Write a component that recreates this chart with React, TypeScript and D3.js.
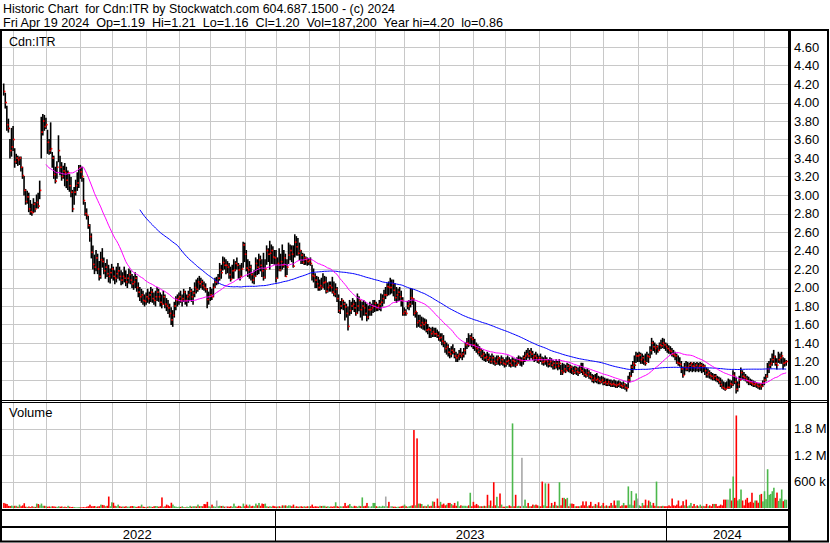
import React from "react";
import * as d3 from "d3";

// ---- data (prices in cents, volume in thousands of shares) ----
const START_DATE = "2022-04-22";
const HOLIDAYS = [
  "2022-05-23", "2022-07-01", "2022-08-01", "2022-09-05", "2022-10-10", "2022-12-26", "2022-12-27",
  "2023-01-02", "2023-02-20", "2023-04-07", "2023-05-22", "2023-07-03", "2023-08-07", "2023-09-04",
  "2023-10-09", "2023-12-25", "2023-12-26", "2024-01-01", "2024-02-19", "2024-03-29",
];

const CLOSE = [
  412, 400, 376, 372, 348, 352, 360, 336, 340, 338,
  340, 330, 321, 305, 293, 298, 285, 282, 281, 290,
  285, 292, 288, 305, 368, 380, 374, 376, 357, 348,
  350, 340, 322, 315, 330, 348, 330, 320, 326, 324,
  316, 324, 310, 303, 285, 303, 310, 313, 329, 325,
  320, 294, 280, 278, 267, 255, 238, 225, 222, 232,
  220, 212, 230, 228, 218, 222, 215, 212, 216, 220,
  212, 210, 215, 218, 212, 208, 212, 210, 206, 210,
  214, 208, 204, 206, 210, 200, 195, 190, 192, 186,
  185, 190, 188, 192, 195, 188, 186, 190, 195, 190,
  184, 182, 190, 182, 180, 178, 172, 165, 170, 180,
  186, 188, 190, 186, 188, 195, 186, 190, 192, 196,
  190, 194, 200, 198, 206, 204, 206, 202, 200, 198,
  187, 190, 192, 190, 200, 206, 206, 210, 219, 216,
  227, 224, 224, 222, 214, 209, 218, 219, 226, 224,
  219, 212, 220, 246, 236, 221, 219, 222, 214, 208,
  212, 226, 222, 230, 224, 218, 211, 220, 240, 236,
  237, 240, 233, 232, 210, 226, 219, 228, 224, 232,
  212, 222, 235, 240, 236, 223, 249, 244, 237, 240,
  235, 227, 232, 230, 228, 229, 226, 213, 212, 208,
  204, 200, 202, 200, 205, 206, 196, 200, 202, 200,
  195, 193, 198, 188, 175, 180, 186, 182, 179, 172,
  158, 175, 180, 182, 178, 172, 180, 186, 176, 180,
  178, 172, 168, 176, 176, 178, 180, 183, 178, 180,
  182, 184, 188, 192, 192, 201, 200, 200, 204, 197,
  189, 192, 195, 190, 186, 172, 174, 172, 180, 182,
  189, 188, 172, 174, 162, 164, 159, 162, 160, 162,
  154, 155, 154, 150, 152, 150, 150, 148, 145, 146,
  142, 140, 134, 136, 130, 128, 132, 130, 126, 124,
  126, 128, 126, 128, 132, 138, 140, 138, 146, 144,
  138, 136, 134, 130, 132, 126, 128, 124, 125, 122,
  124, 120, 124, 120, 118, 122, 124, 119, 122, 118,
  117, 120, 121, 118, 116, 121, 120, 116, 118, 122,
  121, 121, 124, 126, 128, 126, 130, 128, 124, 126,
  124, 121, 124, 122, 119, 120, 122, 120, 117, 120,
  116, 118, 114, 118, 115, 118, 110, 108, 112, 110,
  115, 112, 114, 110, 108, 112, 109, 108, 112, 110,
  108, 106, 105, 108, 104, 103, 100, 102, 100, 101,
  99, 98, 100, 97, 98, 96, 98, 96, 95, 96,
  95, 94, 95, 96, 94, 93, 95, 92, 91, 100,
  104, 114, 118, 116, 126, 126, 127, 122, 124, 120,
  118, 126, 125, 132, 140, 136, 134, 136, 132, 138,
  137, 140, 138, 136, 134, 132, 131, 128, 127, 126,
  119, 118, 117, 112, 105, 114, 112, 114, 116, 118,
  115, 114, 116, 113, 115, 116, 114, 115, 110, 106,
  108, 105, 104, 102, 104, 101, 100, 98, 95, 92,
  91, 90, 92, 92, 96, 95, 105, 98, 90, 95,
  100, 108, 104, 103, 101, 99, 98, 97, 96, 95,
  96, 94, 93, 95, 93, 97, 100, 104, 112, 116,
  118, 122, 125, 118, 116, 122, 124, 126, 118, 119,
  120,
];

const HIGH = [
  420, 410, 396, 382, 360, 372, 374, 350, 344, 342,
  341, 341, 330, 320, 306, 304, 302, 294, 290, 296,
  292, 300, 302, 315, 384, 387, 386, 383, 370, 360,
  378, 346, 342, 330, 336, 364, 342, 335, 331, 334,
  330, 326, 322, 319, 305, 308, 316, 324, 332, 332,
  330, 318, 292, 285, 277, 268, 258, 245, 235, 240,
  236, 228, 238, 242, 232, 226, 230, 224, 220, 225,
  222, 218, 222, 226, 222, 218, 216, 222, 218, 214,
  220, 218, 214, 212, 216, 212, 205, 200, 198, 196,
  192, 194, 198, 195, 200, 198, 194, 196, 200, 198,
  194, 192, 196, 192, 188, 186, 182, 178, 175, 184,
  190, 192, 194, 196, 192, 198, 196, 192, 196, 200,
  198, 196, 205, 208, 210, 212, 210, 208, 206, 204,
  199, 195, 200, 198, 204, 210, 211, 214, 226, 224,
  233, 232, 230, 228, 226, 222, 224, 230, 228, 232,
  226, 224, 226, 249, 248, 240, 230, 228, 224, 215,
  218, 232, 230, 236, 234, 230, 237, 230, 245, 242,
  250, 246, 244, 240, 240, 232, 242, 236, 246, 240,
  236, 230, 248, 246, 245, 245, 257, 255, 253, 248,
  240, 237, 236, 233, 232, 231, 232, 224, 220, 215,
  212, 211, 208, 210, 215, 212, 211, 205, 206, 206,
  211, 206, 204, 200, 192, 185, 188, 186, 184, 182,
  179, 186, 184, 188, 186, 184, 193, 190, 186, 184,
  186, 184, 182, 180, 184, 182, 186, 186, 184, 182,
  186, 193, 192, 197, 200, 204, 206, 210, 208, 208,
  204, 200, 198, 200, 196, 189, 178, 176, 185, 186,
  199, 198, 188, 184, 173, 170, 170, 168, 167, 166,
  165, 160, 157, 156, 157, 156, 156, 154, 152, 150,
  150, 148, 142, 140, 138, 134, 136, 138, 134, 130,
  128, 132, 134, 130, 134, 140, 145, 150, 148, 150,
  146, 144, 140, 138, 136, 134, 132, 130, 128, 130,
  128, 126, 128, 126, 124, 126, 126, 124, 126, 124,
  122, 124, 126, 124, 122, 124, 123, 122, 124, 126,
  125, 124, 126, 130, 132, 134, 132, 134, 131, 128,
  130, 128, 126, 128, 125, 124, 126, 124, 122, 124,
  123, 121, 120, 122, 120, 122, 116, 118, 117, 116,
  118, 117, 116, 115, 114, 115, 114, 113, 115, 118,
  118, 112, 111, 112, 110, 108, 106, 105, 106, 107,
  104, 103, 104, 103, 102, 101, 101, 100, 100, 99,
  100, 99, 98, 99, 98, 97, 98, 96, 95, 104,
  108, 116, 120, 126, 130, 129, 130, 129, 128, 126,
  128, 130, 128, 136, 145, 142, 140, 138, 137, 140,
  143, 145, 144, 140, 139, 137, 136, 134, 132, 130,
  128, 126, 124, 120, 114, 118, 120, 119, 118, 119,
  118, 119, 118, 119, 118, 119, 118, 117, 116, 113,
  112, 110, 108, 107, 106, 106, 104, 103, 102, 100,
  98, 97, 98, 101, 100, 99, 110, 108, 103, 98,
  104, 113, 110, 108, 106, 104, 103, 101, 100, 99,
  98, 97, 96, 96, 96, 99, 103, 106, 118, 120,
  123, 128, 132, 126, 123, 130, 128, 130, 124, 123,
  121,
];

const LOW = [
  408, 394, 370, 368, 340, 342, 348, 330, 334, 332,
  333, 326, 318, 300, 290, 291, 282, 279, 278, 281,
  282, 286, 286, 296, 340, 365, 370, 372, 345, 344,
  345, 330, 318, 313, 318, 336, 322, 316, 318, 310,
  308, 306, 304, 298, 282, 290, 300, 305, 308, 318,
  315, 290, 278, 274, 264, 250, 232, 220, 215, 218,
  215, 208, 210, 222, 215, 210, 212, 206, 205, 210,
  208, 204, 206, 210, 208, 203, 204, 206, 202, 200,
  205, 204, 200, 198, 200, 196, 190, 186, 184, 182,
  180, 182, 184, 183, 185, 184, 182, 180, 186, 185,
  180, 178, 182, 178, 175, 172, 168, 160, 158, 168,
  176, 180, 182, 184, 180, 185, 182, 180, 184, 186,
  185, 182, 190, 194, 196, 198, 200, 198, 197, 195,
  178, 182, 186, 187, 190, 200, 203, 204, 208, 210,
  219, 220, 215, 216, 210, 207, 210, 210, 218, 220,
  210, 208, 212, 222, 228, 218, 212, 210, 208, 205,
  204, 212, 214, 215, 218, 212, 208, 210, 225, 228,
  220, 226, 226, 225, 206, 210, 218, 218, 220, 222,
  212, 214, 226, 230, 228, 222, 233, 235, 235, 230,
  226, 226, 225, 225, 224, 225, 224, 208, 206, 200,
  200, 197, 197, 198, 200, 198, 194, 195, 196, 196,
  194, 191, 190, 185, 173, 172, 177, 176, 165, 168,
  154, 170, 172, 176, 174, 170, 172, 175, 168, 165,
  170, 170, 164, 166, 170, 170, 173, 174, 175, 175,
  176, 175, 180, 183, 188, 191, 192, 193, 194, 191,
  186, 184, 186, 186, 180, 170, 170, 170, 177, 176,
  179, 182, 170, 168, 157, 158, 157, 156, 155, 154,
  152, 150, 146, 146, 147, 147, 147, 146, 143, 142,
  138, 136, 130, 128, 126, 124, 125, 128, 124, 120,
  120, 122, 124, 122, 125, 128, 134, 136, 138, 136,
  134, 132, 130, 128, 126, 124, 122, 121, 120, 121,
  119, 118, 118, 117, 116, 117, 117, 116, 117, 116,
  114, 115, 117, 115, 114, 115, 115, 114, 116, 118,
  116, 115, 117, 120, 122, 124, 122, 124, 122, 120,
  121, 119, 118, 120, 117, 116, 117, 115, 114, 115,
  114, 112, 112, 113, 111, 112, 106, 106, 109, 108,
  110, 109, 108, 107, 106, 107, 106, 105, 107, 108,
  106, 104, 103, 104, 102, 101, 98, 97, 98, 97,
  96, 96, 97, 95, 95, 94, 94, 94, 93, 93,
  93, 92, 92, 93, 92, 91, 91, 90, 88, 92,
  98, 104, 108, 112, 119, 120, 120, 118, 118, 117,
  116, 120, 119, 124, 128, 132, 130, 128, 130, 132,
  134, 135, 134, 132, 130, 129, 128, 126, 125, 122,
  118, 116, 115, 108, 103, 106, 110, 110, 109, 110,
  109, 110, 109, 110, 109, 110, 108, 109, 106, 103,
  103, 102, 101, 100, 100, 99, 98, 96, 93, 91,
  90, 89, 91, 91, 91, 92, 94, 96, 86, 88,
  92, 100, 101, 100, 99, 97, 95, 95, 94, 93,
  93, 92, 91, 90, 90, 93, 95, 99, 103, 108,
  113, 116, 119, 116, 112, 119, 118, 118, 112, 115,
  116,
];

const VOLUME_K = [
  115, 100, 90, 50, 45, 55, 40, 50, 50, 30,
  77, 40, 60, 108, 30, 25, 35, 20, 40, 30,
  25, 100, 90, 60, 100, 50, 50, 40, 30, 35,
  30, 40, 35, 30, 25, 40, 30, 35, 25, 30,
  20, 50, 30, 20, 25, 20, 15, 15, 20, 15,
  15, 20, 15, 30, 40, 75, 40, 40, 45, 30,
  35, 40, 77, 70, 60, 40, 50, 260, 40, 130,
  120, 50, 40, 77, 40, 30, 35, 30, 40, 30,
  30, 40, 45, 40, 30, 25, 40, 35, 77, 30,
  25, 20, 30, 40, 30, 25, 40, 45, 40, 30,
  40, 240, 30, 40, 77, 60, 40, 120, 77, 40,
  30, 20, 30, 25, 40, 20, 15, 30, 20, 50,
  30, 40, 40, 35, 77, 40, 45, 40, 90, 85,
  140, 40, 30, 77, 40, 30, 170, 40, 50, 45,
  50, 30, 40, 35, 30, 40, 30, 100, 40, 30,
  50, 40, 30, 100, 40, 77, 40, 77, 40, 50,
  40, 100, 60, 115, 50, 100, 90, 100, 40, 30,
  40, 30, 50, 40, 30, 35, 40, 30, 60, 55,
  60, 40, 60, 55, 40, 77, 30, 40, 30, 35,
  40, 30, 40, 30, 40, 35, 40, 77, 30, 40,
  35, 30, 50, 45, 50, 50, 30, 40, 30, 35,
  30, 40, 130, 40, 30, 40, 35, 40, 115, 40,
  60, 92, 40, 30, 50, 40, 30, 50, 40, 240,
  40, 50, 115, 40, 30, 40, 115, 115, 40, 30,
  40, 30, 50, 40, 260, 40, 140, 40, 40, 30,
  30, 25, 30, 30, 40, 50, 77, 40, 30, 40,
  50, 60, 1770, 60, 1580, 100, 100, 90, 40, 50,
  40, 77, 40, 50, 150, 140, 40, 215, 50, 140,
  77, 100, 60, 77, 115, 115, 90, 60, 115, 50,
  150, 40, 60, 50, 50, 50, 40, 60, 346, 40,
  140, 60, 92, 60, 40, 40, 40, 50, 40, 300,
  60, 170, 40, 585, 60, 254, 40, 330, 77, 30,
  30, 40, 40, 60, 40, 1920, 40, 300, 40, 50,
  40, 1140, 50, 190, 40, 115, 40, 40, 77, 60,
  77, 60, 40, 40, 600, 60, 560, 40, 555, 40,
  115, 60, 140, 60, 50, 585, 60, 230, 230, 200,
  230, 40, 100, 100, 90, 40, 40, 40, 40, 60,
  150, 60, 150, 40, 60, 140, 40, 50, 92, 60,
  130, 40, 60, 115, 40, 60, 40, 50, 115, 60,
  170, 60, 170, 170, 40, 60, 115, 60, 60, 490,
  77, 385, 60, 170, 330, 215, 60, 40, 115, 60,
  190, 60, 170, 140, 60, 115, 50, 600, 40, 40,
  40, 50, 40, 40, 40, 60, 40, 215, 60, 50,
  77, 170, 40, 60, 155, 60, 190, 40, 60, 115,
  40, 92, 40, 60, 40, 77, 40, 50, 40, 92,
  40, 60, 40, 92, 92, 92, 40, 50, 77, 60,
  190, 190, 190, 190, 440, 170, 715, 230, 2100, 170,
  200, 420, 170, 60, 190, 230, 120, 140, 346, 120,
  170, 170, 120, 300, 320, 150, 380, 200, 880, 300,
  320, 380, 460, 230, 350, 160, 215, 420, 155, 190,
  187.2,
];

const PRICE_TICKS = [1.0, 1.2, 1.4, 1.6, 1.8, 2.0, 2.2, 2.4, 2.6, 2.8, 3.0, 3.2, 3.4, 3.6, 3.8, 4.0, 4.2, 4.4, 4.6];
const VOLUME_TICKS = [600000, 1200000, 1800000];
const VOLUME_TICK_LABELS = ["600 k", "1.2 M", "1.8 M"];
const MA_SHORT = 28;
const MA_LONG = 88;

const HEADER_1 = "Historic Chart  for Cdn:ITR by Stockwatch.com 604.687.1500 - (c) 2024";
const HEADER_2 = "Fri Apr 19 2024  Op=1.19  Hi=1.21  Lo=1.16  Cl=1.20  Vol=187,200  Year hi=4.20  lo=0.86";
const SYMBOL = "Cdn:ITR";

const FONT = "'Liberation Sans', Arial, Helvetica, sans-serif";

function tradingDays(count: number): Date[] {
  const hol = new Set(HOLIDAYS);
  const out: Date[] = [];
  const [yy, mm, dd] = START_DATE.split("-").map(Number);
  let t = Date.UTC(yy, mm - 1, dd);
  while (out.length < count) {
    const dt = new Date(t);
    const wd = dt.getUTCDay();
    const key = dt.toISOString().slice(0, 10);
    if (wd !== 0 && wd !== 6 && !hol.has(key)) out.push(dt);
    t += 86400000;
  }
  return out;
}

export default function App() {
  const n = Math.min(CLOSE.length, HIGH.length, LOW.length, VOLUME_K.length);
  const dates = tradingDays(n);

  const x = d3.scaleLinear().domain([0, n - 1]).range([3.7, 786.2]);
  const y = d3.scaleLinear().domain([1.0, 4.6]).range([380, 47]);
  const yv = d3.scaleLinear().domain([0, 1800000]).range([508, 428.7]);

  const monthStarts: number[] = [];
  const yearStarts: number[] = [];
  for (let i = 1; i < n; i++) {
    if (dates[i].getUTCMonth() !== dates[i - 1].getUTCMonth()) monthStarts.push(i);
    if (dates[i].getUTCFullYear() !== dates[i - 1].getUTCFullYear()) yearStarts.push(i);
  }

  const closes = CLOSE.slice(0, n).map((c) => c / 100);
  const ma = (period: number): [number, number | null][] =>
    closes.map((_, i) => [i, i < period - 1 ? null : (d3.mean(closes.slice(i - period + 1, i + 1)) as number)]);
  const line = d3
    .line<[number, number | null]>()
    .defined((d) => d[1] != null)
    .x((d) => x(d[0]))
    .y((d) => y(d[1] as number));

  const px = (v: number) => Math.round(v) + 0.5;
  const gridColor = "#c8c8c8";

  // year segments
  const dividers = yearStarts.map((i) => x(i) - 1.5);
  const bounds = [0, ...dividers, 789];
  const yearLabels = [dates[0].getUTCFullYear(), ...yearStarts.map((i) => dates[i].getUTCFullYear())];

  return (
    <>
      <style>{`body{margin:0;background:#fff}`}</style>
      <svg
        width={830}
        height={543}
        style={{ display: "block", position: "absolute", left: 0, top: 0 }}
        fontFamily={FONT}
      >
        <rect x={0} y={0} width={830} height={543} fill="#fff" />
        <defs>
          <clipPath id="priceClip">
            <rect x={2} y={31} width={786} height={369} />
          </clipPath>
          <clipPath id="volClip">
            <rect x={2} y={403} width={786} height={106} />
          </clipPath>
        </defs>

        {/* header */}
        <text x={3} y={13} fontSize={13} textLength={392} lengthAdjust="spacingAndGlyphs" style={{ whiteSpace: "pre" }} fill="#000">
          {HEADER_1}
        </text>
        <text x={3} y={27} fontSize={13} textLength={500} lengthAdjust="spacingAndGlyphs" style={{ whiteSpace: "pre" }} fill="#000">
          {HEADER_2}
        </text>

        {/* price grid */}
        {PRICE_TICKS.map((p) => (
          <line key={"pg" + p} x1={2} x2={788} y1={px(y(p))} y2={px(y(p))} stroke={gridColor} strokeWidth={1} />
        ))}
        {monthStarts.map((i) => (
          <line key={"mg" + i} x1={px(x(i))} x2={px(x(i))} y1={31} y2={400} stroke={gridColor} strokeWidth={1} />
        ))}
        {/* volume grid */}
        {VOLUME_TICKS.map((v) => (
          <line key={"vg" + v} x1={2} x2={788} y1={px(yv(v))} y2={px(yv(v))} stroke={gridColor} strokeWidth={1} />
        ))}
        {monthStarts.map((i) => (
          <line key={"mv" + i} x1={px(x(i))} x2={px(x(i))} y1={403} y2={509} stroke={gridColor} strokeWidth={1} />
        ))}

        {/* volume bars */}
        <g clipPath="url(#volClip)">
          {d3.range(n).map((i) => {
            const v = VOLUME_K[i] * 1000;
            const prev = i > 0 ? CLOSE[i - 1] : CLOSE[i] + 1;
            const col = CLOSE[i] > prev ? "#4cb84c" : CLOSE[i] < prev ? "#ff0000" : "#a8a8a8";
            const top = yv(v);
            return <rect key={"v" + i} x={x(i) - 0.6} y={top} width={1.6} height={yv(0) - top} fill={col} />;
          })}
        </g>

        {/* price bars */}
        <g clipPath="url(#priceClip)">
          {d3.range(n).map((i) => (
            <line
              key={"b" + i}
              x1={x(i)}
              x2={x(i)}
              y1={y(HIGH[i] / 100) - 0.5}
              y2={y(LOW[i] / 100) + 0.5}
              stroke="#000"
              strokeWidth={1.6}
            />
          ))}
          {d3.range(n).map((i) => (
            <rect key={"c" + i} x={x(i) + 0.1} y={y(CLOSE[i] / 100) - 0.8} width={1.6} height={1.6} fill="#ff0000" />
          ))}
          <path d={line(ma(MA_LONG)) || ""} fill="none" stroke="#0000ff" strokeWidth={1} />
          <path d={line(ma(MA_SHORT)) || ""} fill="none" stroke="#ff00ff" strokeWidth={1} />
        </g>

        {/* panel labels */}
        <text x={9} y={46} fontSize={12.5} fill="#000">{SYMBOL}</text>
        <text x={9} y={417} fontSize={13} fill="#000">Volume</text>

        {/* price axis labels */}
        {PRICE_TICKS.map((p) => (
          <text key={"pl" + p} x={794} y={y(p) + 4.7} fontSize={13} fill="#000">
            {d3.format(".2f")(p)}
          </text>
        ))}
        {VOLUME_TICKS.map((v, k) => (
          <text key={"vl" + v} x={794} y={yv(v) + 4.7} fontSize={13} fill="#000">
            {VOLUME_TICK_LABELS[k]}
          </text>
        ))}

        {/* frame */}
        <rect x={1} y={30} width={827} height={511.5} fill="none" stroke="#000" strokeWidth={2} />
        <line x1={789.5} x2={789.5} y1={30} y2={542} stroke="#000" strokeWidth={3} />
        <line x1={0} x2={829} y1={400.5} y2={400.5} stroke="#000" strokeWidth={1} />
        <line x1={0} x2={829} y1={402.5} y2={402.5} stroke="#000" strokeWidth={1} />
        <line x1={0} x2={789} y1={510} y2={510} stroke="#000" strokeWidth={2} />
        <line x1={0} x2={789} y1={527} y2={527} stroke="#000" strokeWidth={2} />
        {dividers.map((dx, k) => (
          <line key={"yd" + k} x1={Math.round(dx) + 0.5} x2={Math.round(dx) + 0.5} y1={511} y2={541} stroke="#000" strokeWidth={1} />
        ))}
        {yearLabels.map((yr, k) => (
          <text key={"yl" + yr} x={(bounds[k] + bounds[k + 1]) / 2} y={539} fontSize={13} textAnchor="middle" fill="#000">
            {yr}
          </text>
        ))}
      </svg>
    </>
  );
}
